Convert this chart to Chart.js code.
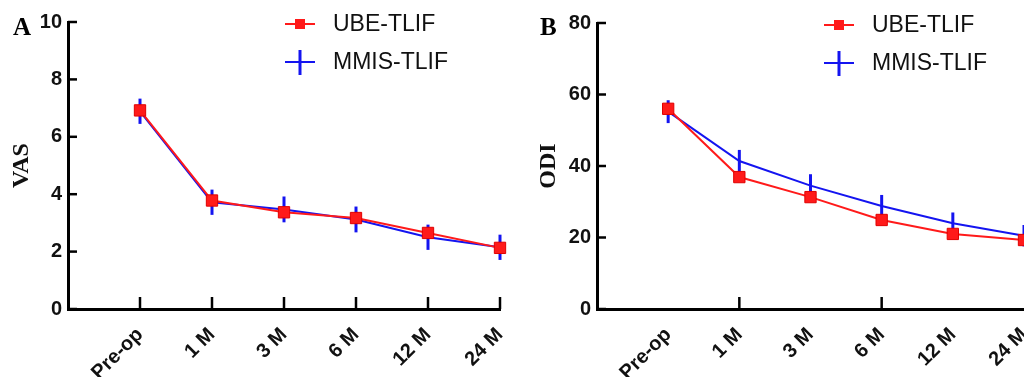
<!DOCTYPE html>
<html>
<head>
<meta charset="utf-8">
<script src="https://cdn.jsdelivr.net/npm/chart.js@4.4.1/dist/chart.umd.min.js"></script>
<style>
  body { margin: 0; background: #fff; }
  .panel { position: absolute; top: 0; height: 377px; overflow: hidden; }
  #panelA { left: 0; width: 512px; }
  #panelB { left: 512px; width: 512px; }
</style>
</head>
<body>
<div class="panel" id="panelA"><canvas id="chartA" width="560" height="377"></canvas></div>
<div class="panel" id="panelB"><canvas id="chartB" width="560" height="377"></canvas></div>
<script>
const categories = ['Pre-op', '1 M', '3 M', '6 M', '12 M', '24 M'];
const seriesNames = ['UBE-TLIF', 'MMIS-TLIF'];

// VAS (panel A)
const vasUbe = [6.92, 3.78, 3.37, 3.17, 2.65, 2.13];
const vasMmis = [6.89, 3.72, 3.47, 3.12, 2.50, 2.15];
const vasMmisSd = [0.44, 0.44, 0.45, 0.45, 0.44, 0.44];

// ODI (panel B)
const odiUbe = [56.0, 36.9, 31.3, 24.9, 21.0, 19.3];
const odiMmis = [55.2, 41.4, 34.5, 28.8, 24.0, 20.5];
const odiMmisSd = [3.2, 3.1, 3.2, 3.1, 3.0, 3.0];

const RED = '#ff1a1a';
const BLUE = '#1414f0';

const toPoints = vals => vals.map((v, i) => ({ x: i + 1, y: v }));

// error bars, inward ticks, panel letter, legend
const panelDecor = {
    id: 'panelDecor',
    beforeDatasetsDraw(chart, args, opts) {
        const ctx = chart.ctx;
        const xs = chart.scales.x, ys = chart.scales.y;
        ctx.save();
        ctx.strokeStyle = BLUE;
        ctx.lineWidth = 3;
        opts.sd.forEach((sd, i) => {
            const m = opts.mean[i];
            const px = xs.getPixelForValue(i + 1);
            ctx.beginPath();
            ctx.moveTo(px, ys.getPixelForValue(m + sd));
            ctx.lineTo(px, ys.getPixelForValue(m - sd));
            ctx.stroke();
        });
        ctx.restore();
    },
    afterDraw(chart, args, opts) {
        const ctx = chart.ctx;
        const area = chart.chartArea;
        const xs = chart.scales.x, ys = chart.scales.y;
        ctx.save();

        // ticks pointing into the plot
        ctx.strokeStyle = '#000';
        ctx.lineWidth = 2.5;
        ys.ticks.forEach(t => {
            const py = ys.getPixelForValue(t.value);
            ctx.beginPath();
            ctx.moveTo(area.left, py);
            ctx.lineTo(area.left + 9, py);
            ctx.stroke();
        });
        opts.xTicks.forEach(v => {
            const px = xs.getPixelForValue(v);
            ctx.beginPath();
            ctx.moveTo(px, area.bottom);
            ctx.lineTo(px, area.bottom - 12);
            ctx.stroke();
        });

        // panel letter
        ctx.fillStyle = '#000';
        ctx.font = 'bold 25px "Liberation Serif", serif';
        ctx.textAlign = 'left';
        ctx.textBaseline = 'alphabetic';
        ctx.fillText(opts.letter, opts.letterX, 35);

        // legend
        const lx = opts.legendX;
        ctx.font = '23px "Liberation Sans", Arial, sans-serif';
        ctx.textBaseline = 'middle';
        chart.data.datasets.forEach((ds, i) => {
            const y = opts.legendY[i];
            ctx.strokeStyle = ds.borderColor;
            ctx.lineWidth = 2;
            ctx.beginPath();
            ctx.moveTo(lx, y);
            ctx.lineTo(lx + 30, y);
            ctx.stroke();
            if (i === 0) {
                ctx.fillStyle = RED;
                ctx.fillRect(lx + 10, y - 5, 10, 10);
            } else {
                ctx.lineWidth = 3;
                ctx.beginPath();
                ctx.moveTo(lx + 15, y - 12);
                ctx.lineTo(lx + 15, y + 13);
                ctx.stroke();
            }
            ctx.fillStyle = '#111';
            ctx.fillText(ds.label, lx + 48, y + 1);
        });
        ctx.restore();
    }
};

function makeChart(id, ube, mmis, sd, cfg) {
    return new Chart(document.getElementById(id), {
        type: 'line',
        data: {
            datasets: [
                {
                    label: seriesNames[0],
                    data: toPoints(ube),
                    borderColor: RED,
                    backgroundColor: RED,
                    borderWidth: 2,
                    pointStyle: 'rect',
                    pointRadius: 8,
                    pointBorderWidth: 1,
                    pointBorderColor: '#e00000',
                    clip: false
                },
                {
                    label: seriesNames[1],
                    data: toPoints(mmis),
                    borderColor: BLUE,
                    backgroundColor: BLUE,
                    borderWidth: 2,
                    pointRadius: 0,
                    clip: false
                }
            ]
        },
        options: {
            responsive: false,
            animation: false,
            layout: { padding: { top: cfg.padTop, right: cfg.padRight, left: 0, bottom: 0 } },
            plugins: {
                legend: { display: false },
                tooltip: { enabled: false },
                panelDecor: {
                    sd: sd, mean: mmis, xTicks: cfg.xTicks,
                    letter: cfg.letter, letterX: cfg.letterX,
                    legendX: cfg.legendX, legendY: cfg.legendY
                }
            },
            scales: {
                x: {
                    type: 'linear',
                    min: 0,
                    max: categories.length,
                    afterBuildTicks: s => { s.ticks = categories.map((c, i) => ({ value: i + 1 })); },
                    afterFit: s => { s.height = 68; },
                    grid: { display: false, drawTicks: false },
                    border: { display: true, color: '#000', width: 3 },
                    ticks: {
                        autoSkip: false,
                        minRotation: 45,
                        maxRotation: 45,
                        padding: 14,
                        color: '#111',
                        font: { family: '"Liberation Sans", Arial, sans-serif', size: 20, weight: 'bold' },
                        callback: v => categories[v - 1] || ''
                    }
                },
                y: {
                    min: 0,
                    max: cfg.yMax,
                    afterFit: s => { s.width = cfg.axisX; },
                    grid: { display: false, drawTicks: false },
                    border: { display: true, color: '#000', width: 3 },
                    ticks: {
                        stepSize: cfg.yStep,
                        padding: 6,
                        color: '#111',
                        font: { family: '"Liberation Sans", Arial, sans-serif', size: 20, weight: 'bold' }
                    },
                    title: {
                        display: true,
                        text: cfg.yTitle,
                        color: '#111',
                        padding: { top: cfg.titlePad, bottom: 0 },
                        font: { family: '"Liberation Serif", serif', size: 24, weight: 'bold' }
                    }
                }
            }
        },
        plugins: [panelDecor]
    });
}

makeChart('chartA', vasUbe, vasMmis, vasMmisSd, {
    yMax: 10, yStep: 2, yTitle: 'VAS', axisX: 68, padTop: 22, padRight: 60, titlePad: 7,
    xTicks: [1, 2, 3, 4, 5, 6], letter: 'A', letterX: 13, legendX: 285, legendY: [24, 62]
});

makeChart('chartB', odiUbe, odiMmis, odiMmisSd, {
    yMax: 80, yStep: 20, yTitle: 'ODI', axisX: 85, padTop: 23, padRight: 48, titlePad: 22,
    xTicks: [2, 4], letter: 'B', letterX: 28, legendX: 312, legendY: [25, 63]
});
</script>
</body>
</html>
